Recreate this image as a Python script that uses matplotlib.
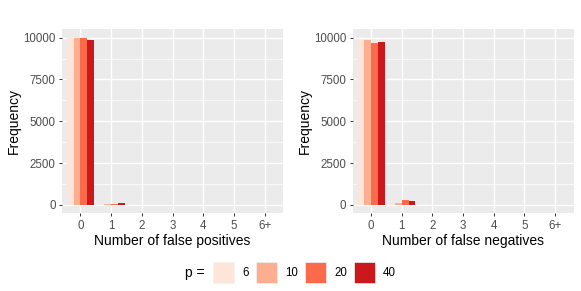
import numpy as np
import matplotlib.pyplot as plt
from matplotlib.patches import Rectangle

plt.rcParams['font.family'] = ['Liberation Sans', 'DejaVu Sans']

categories = ['0', '1', '2', '3', '4', '5', '6+']
p_values = [6, 10, 20, 40]
colors = ['#FEE5D9', '#FCAE91', '#FB6A4A', '#CB181D']

# frequencies per p value (rows) and category (columns)
false_pos = {
    6: [9990, 8, 2, 0, 0, 0, 0],
    10: [9960, 32, 6, 2, 0, 0, 0],
    20: [9990, 30, 20, 5, 2, 2, 3],
    40: [9865, 125, 8, 2, 0, 0, 0],
}
false_neg = {
    6: [9910, 40, 5, 0, 0, 0, 0],
    10: [9880, 110, 8, 2, 0, 0, 0],
    20: [9690, 300, 10, 0, 0, 0, 0],
    40: [9760, 230, 10, 0, 0, 0, 0],
}

panel_bg = '#EBEBEB'
tick_col = '#4D4D4D'

fig = plt.figure(figsize=(5.81, 2.91), dpi=100)
ax1 = fig.add_axes([62 / 581, 1 - 213.3 / 291, 221.3 / 581, 184 / 291])
ax2 = fig.add_axes([352.5 / 581, 1 - 213.3 / 291, 221 / 581, 184 / 291])


def draw_panel(ax, data, xlabel):
    ax.set_facecolor(panel_bg)
    x = np.arange(len(categories))
    w = 0.9 / len(p_values)
    for k, p in enumerate(p_values):
        ax.bar(x - 0.45 + w * (k + 0.5), data[p], width=w, color=colors[k],
               linewidth=0, zorder=3)
    ax.set_xlim(-0.6, len(categories) - 0.4)
    ax.set_ylim(-500, 10500)
    ax.set_yticks([0, 2500, 5000, 7500, 10000])
    ax.set_yticks([1250, 3750, 6250, 8750], minor=True)
    ax.set_xticks(x)
    ax.set_xticklabels(categories)
    ax.grid(True, which='major', color='white', linewidth=1.0, zorder=0)
    ax.grid(True, which='minor', axis='y', color='white', linewidth=0.5, zorder=0)
    ax.set_axisbelow(True)
    for s in ax.spines.values():
        s.set_visible(False)
    ax.tick_params(axis='both', which='major', length=2.5, width=0.7,
                   color='#333333', labelcolor=tick_col, labelsize=8.3, pad=2)
    ax.tick_params(axis='both', which='minor', length=0)
    ax.set_xlabel(xlabel, fontsize=10, labelpad=2)
    ax.set_ylabel('Frequency', fontsize=10, labelpad=1.5)


draw_panel(ax1, false_pos, 'Number of false positives')
draw_panel(ax2, false_neg, 'Number of false negatives')

# legend along the bottom
key_w, key_h = 21 / 581, 21.5 / 291
key_x = [213, 256, 305, 354]
y0 = 1 - 283.3 / 291
fig.text(185 / 581, y0 + key_h / 2, 'p =', fontsize=10, va='center', ha='left')
for k, p in enumerate(p_values):
    fig.patches.append(Rectangle((key_x[k] / 581, y0), key_w, key_h,
                                 transform=fig.transFigure, facecolor=colors[k],
                                 edgecolor='#F2F2F2', linewidth=0.5))
    fig.text((key_x[k] + 29) / 581, y0 + key_h / 2, str(p), fontsize=8.3,
             va='center', ha='left')

fig.savefig('out.png', dpi=100)
